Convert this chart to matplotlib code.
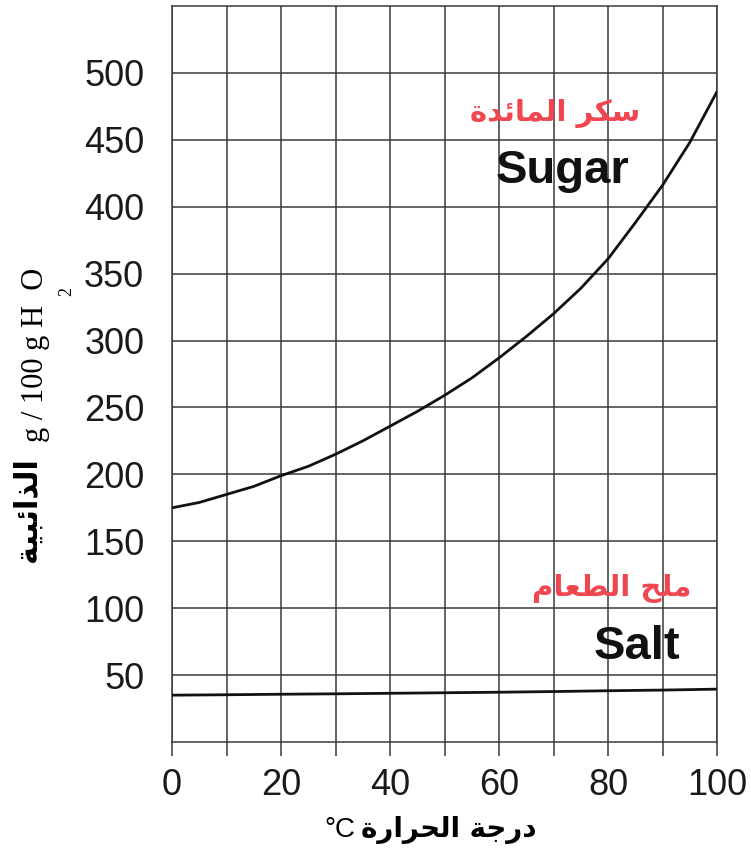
import matplotlib
matplotlib.use("Agg")
import matplotlib.pyplot as plt

# ---------------- data ----------------
sugar_temps = [0, 5, 10, 15, 20, 25, 30, 35, 40, 45, 50,
               55, 60, 65, 70, 75, 80, 85, 90, 95, 100]
sugar = [175, 179, 185, 191, 199, 206, 215, 225, 236, 247, 259,
         272, 287, 303, 320, 339, 361, 388, 416, 448, 486]
salt_temps = [0, 10, 20, 30, 40, 50, 60, 70, 80, 90, 100]
salt = [35.0, 35.3, 35.7, 36.0, 36.4, 36.8, 37.2, 37.7, 38.3, 38.8, 39.5]
x_ticks = list(range(0, 101, 10))
x_ticklabels = ["0", "", "20", "", "40", "", "60", "", "80", "", "100"]
y_ticks = list(range(50, 501, 50))
y_ticklabels = [str(v) for v in y_ticks]

sugar_ar = "سكر المائدة"
salt_ar = "ملح الطعام"
xlabel_ar = "درجة الحرارة"
ylabel_ar = "الذائبية"

# ---------------- simple Arabic shaping (presentation forms + RTL) ----------------
FORMS = {
    'ا': ('\uFE8D', '\uFE8E', None, None),
    'ب': ('\uFE8F', '\uFE90', '\uFE91', '\uFE92'),
    'ة': ('\uFE93', '\uFE94', None, None),
    'ج': ('\uFE9D', '\uFE9E', '\uFE9F', '\uFEA0'),
    'ح': ('\uFEA1', '\uFEA2', '\uFEA3', '\uFEA4'),
    'د': ('\uFEA9', '\uFEAA', None, None),
    'ذ': ('\uFEAB', '\uFEAC', None, None),
    'ر': ('\uFEAD', '\uFEAE', None, None),
    'س': ('\uFEB1', '\uFEB2', '\uFEB3', '\uFEB4'),
    'ط': ('\uFEC1', '\uFEC2', '\uFEC3', '\uFEC4'),
    'ع': ('\uFEC9', '\uFECA', '\uFECB', '\uFECC'),
    'ك': ('\uFED9', '\uFEDA', '\uFEDB', '\uFEDC'),
    'ل': ('\uFEDD', '\uFEDE', '\uFEDF', '\uFEE0'),
    'م': ('\uFEE1', '\uFEE2', '\uFEE3', '\uFEE4'),
    'ئ': ('\uFE89', '\uFE8A', '\uFE8B', '\uFE8C'),
    'ي': ('\uFEF1', '\uFEF2', '\uFEF3', '\uFEF4'),
}


def shape_ar(text):
    chars = list(text)
    n = len(chars)
    out = []

    def is_ar(c):
        return c in FORMS

    def dual(c):
        return c in FORMS and FORMS[c][2] is not None

    i = 0
    while i < n:
        c = chars[i]
        if not is_ar(c):
            out.append(c)
            i += 1
            continue
        prev = chars[i - 1] if i > 0 else None
        jp = prev is not None and dual(prev)
        if c == 'ل' and i + 1 < n and chars[i + 1] == 'ا':
            out.append('\uFEFC' if jp else '\uFEFB')
            i += 2
            continue
        nxt = chars[i + 1] if i + 1 < n else None
        jn = dual(c) and nxt is not None and is_ar(nxt)
        f = FORMS[c]
        if jp and jn:
            g = f[3]
        elif jp:
            g = f[1]
        elif jn:
            g = f[2]
        else:
            g = f[0]
        out.append(g)
        i += 1
    return ''.join(out)[::-1]


# ---------------- figure ----------------
W, H = 751, 852
fig = plt.figure(figsize=(W / 100, H / 100), dpi=100)
ax = fig.add_axes([172 / W, 1 - 742 / H, (717 - 172) / W, (742 - 6) / H])

grid_c = "#3a3a3a"
ax.plot(sugar_temps, sugar, color="#111111", lw=2.0, zorder=3,
        solid_joinstyle="round")
ax.plot(salt_temps, salt, color="#111111", lw=2.0, zorder=3)

ax.set_xlim(0, 100)
ax.set_ylim(0, 550)
ax.set_xticks(x_ticks)
ax.set_xticklabels(x_ticklabels)
ax.set_yticks(y_ticks)
ax.set_yticklabels(y_ticklabels)
ax.grid(True, color=grid_c, lw=1.1)
for s in ax.spines.values():
    s.set_color(grid_c)
    s.set_linewidth(1.1)

ax.tick_params(axis="x", length=10, width=1.1, color=grid_c, pad=9,
               labelsize=26, labelcolor="#1a1a1a")
ax.tick_params(axis="y", length=0, pad=20, labelsize=26, labelcolor="#1a1a1a")
for lab in ax.get_xticklabels() + ax.get_yticklabels():
    lab.set_family(["Liberation Sans", "DejaVu Sans"])

cond = ["DejaVu Sans Condensed", "Liberation Sans Narrow", "Liberation Sans"]

# annotations
red = "#f0464f"
ax.text(70.3, 470, shape_ar(sugar_ar), color=red, fontsize=21, fontweight="bold",
        family=["DejaVu Sans"], ha="center", va="center", zorder=4)
ax.text(71.7, 427, "Sugar", color="#111111", fontsize=34, fontweight="bold",
        family=cond, fontstretch="condensed",
        ha="center", va="center", zorder=4)
ax.text(80.6, 115, shape_ar(salt_ar), color=red, fontsize=21, fontweight="bold",
        family=["DejaVu Sans"], ha="center", va="center", zorder=4)
ax.text(85.3, 71, "Salt", color="#111111", fontsize=34, fontweight="bold",
        family=cond, fontstretch="condensed",
        ha="center", va="center", zorder=4)

# x label
fig.text(361 / W, 1 - 830 / H, shape_ar(xlabel_ar), fontsize=20, fontweight="bold",
         family=["DejaVu Sans"], ha="left", va="center")
fig.text(355 / W, 1 - 830 / H, "°C", fontsize=20,
         family=["Liberation Sans", "DejaVu Sans"], ha="right", va="center")

# y label
fig.text(27 / W, 1 - 510 / H, shape_ar(ylabel_ar), fontsize=22, fontweight="bold",
         family=["DejaVu Sans"], rotation=90, ha="center", va="center")
fig.text(36 / W, 1 - 355 / H, "g / 100 g H  O", fontsize=22,
         family=["Liberation Serif", "DejaVu Serif"], rotation=90,
         ha="center", va="center")
fig.text(67 / W, 1 - 291 / H, "2", fontsize=13,
         family=["Liberation Serif", "DejaVu Serif"], rotation=90,
         ha="center", va="center")

fig.savefig("out.png", dpi=100, facecolor="white")
